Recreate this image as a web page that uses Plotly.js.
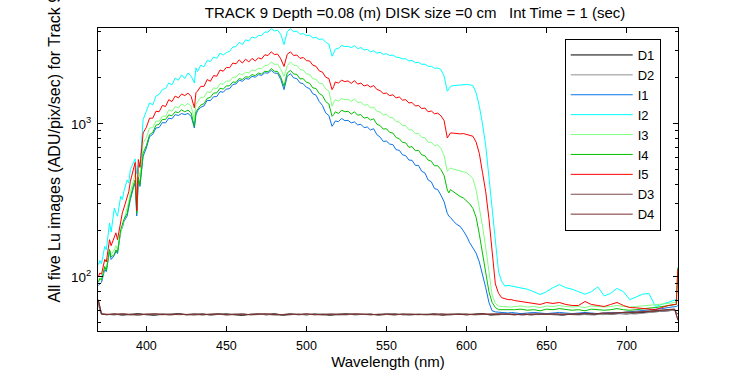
<!DOCTYPE html>
<html>
<head>
<meta charset="utf-8">
<script src="https://cdn.plot.ly/plotly-3.0.1.min.js"></script>
<style>html,body{margin:0;padding:0;background:#fff;}#chart{width:750px;height:375px;}</style>
</head>
<body>
<div id="chart"></div>
<script>
// ---------- data ----------
const wavelength = [
  370, 371, 372, 374, 375, 377, 378, 380, 381, 382,
  384, 385, 386, 388, 389, 390, 392, 393, 394, 395,
  396, 397, 398, 400, 402, 404, 406, 408, 410, 412,
  414, 416, 418, 420, 422, 424, 426, 428, 430, 431,
  432, 434, 436, 438, 440, 442, 444, 446, 448, 450,
  452, 454, 456, 458, 460, 462, 464, 466, 468, 470,
  472, 474, 476, 478, 480, 482, 484, 486, 487, 488,
  490, 492, 494, 496, 498, 500, 502, 504, 506, 508,
  510, 512, 514, 516, 517, 518, 520, 522, 524, 526,
  528, 530, 532, 534, 536, 538, 540, 542, 544, 546,
  548, 550, 552, 554, 556, 558, 560, 562, 564, 566,
  568, 570, 572, 574, 576, 578, 580, 582, 584, 586,
  588, 589, 590, 592, 594, 596, 598, 600, 602, 604,
  606, 608, 610, 612, 614, 616, 618, 620, 622, 624,
  626, 628, 630, 634, 638, 642, 646, 650, 654, 658,
  662, 666, 670, 674, 678, 682, 686, 690, 694, 698,
  702, 706, 710, 714, 718, 722, 726, 730, 731, 732
];

const I1 = [
  88, 90, 92, 112, 108, 148, 130, 138, 148, 142,
  198, 210, 230, 250, 290, 320, 385, 410, 250, 430,
  390, 500, 614, 695, 825, 855, 940, 948, 1020, 1015,
  1090, 1080, 1150, 1135, 1170, 1150, 1170, 1120, 940, 1150,
  1220, 1285, 1310, 1425, 1420, 1505, 1510, 1625, 1610, 1690,
  1700, 1810, 1825, 1930, 1900, 1980, 1960, 2045, 2020, 2100,
  2075, 2160, 2145, 2240, 2150, 2140, 1950, 1675, 1880, 2050,
  2130, 2000, 1975, 1855, 1830, 1735, 1700, 1575, 1540, 1400,
  1320, 1180, 1135, 964, 1000, 1045, 1035, 1085, 1050, 1055,
  1015, 1030, 985, 995, 945, 955, 912, 930, 850, 820,
  768, 772, 738, 732, 678, 672, 628, 620, 580, 578,
  536, 535, 490, 478, 430, 418, 378, 372, 342, 310,
  260, 249, 245, 230, 220, 214, 200, 185, 167, 155,
  143, 125, 105, 85, 68, 60, 59, 58.7, 58.5, 58,
  58, 58.5, 58, 57.5, 58, 58.5, 58, 57.5, 58, 58.5,
  58, 57.5, 58, 58.5, 58, 57.5, 58, 58.5, 58, 58.5,
  59, 59.5, 60, 60.5, 61, 62, 63, 64, 64, 65
];

const I2 = [
  120, 128, 122, 158, 150, 225, 196, 282, 262, 249,
  336, 320, 363, 430, 410, 502, 560, 590, 470, 540,
  520, 820, 1067, 1210, 1371, 1330, 1520, 1560, 1680, 1700,
  1854, 1800, 1990, 1930, 2090, 1980, 2152, 2050, 1854, 2323,
  2200, 2420, 2360, 2600, 2560, 2740, 2680, 2900, 2820, 2930,
  2980, 3180, 3200, 3420, 3300, 3550, 3480, 3700, 3640, 3780,
  3780, 3990, 3980, 4200, 4050, 4100, 3850, 3300, 3700, 4000,
  4200, 4000, 4050, 3850, 3900, 3780, 3800, 3650, 3680, 3560,
  3600, 3420, 3330, 2770, 2900, 3080, 3120, 3260, 3200, 3220,
  3150, 3250, 3100, 3160, 3040, 3070, 2960, 3010, 2900, 2940,
  2850, 2880, 2800, 2820, 2730, 2720, 2660, 2670, 2580, 2600,
  2510, 2530, 2450, 2460, 2380, 2380, 2310, 2320, 2270, 2050,
  1635, 1700, 1760, 1780, 1790, 1807, 1800, 1810, 1800, 1780,
  1595, 1305, 1000, 720, 450, 270, 165, 108, 93, 87,
  88, 87, 86, 84, 83, 80, 76.6, 80, 85, 89,
  85, 83, 80, 77, 80, 86, 75, 78, 84, 80,
  71, 74, 77, 78, 64, 66, 68, 70, 71, 72
];

const I3 = [
  95, 97, 96, 115, 112, 150, 140, 150, 160, 150,
  195, 215, 230, 290, 310, 360, 440, 470, 300, 500,
  450, 600, 751, 815, 940, 945, 1045, 1040, 1125, 1120,
  1235, 1210, 1300, 1270, 1350, 1310, 1365, 1300, 1067, 1350,
  1390, 1490, 1490, 1620, 1600, 1720, 1700, 1830, 1820, 1910,
  1900, 2020, 2020, 2130, 2090, 2180, 2150, 2250, 2230, 2310,
  2290, 2410, 2420, 2540, 2450, 2460, 2270, 2048, 2200, 2400,
  2540, 2420, 2410, 2270, 2250, 2120, 2110, 1970, 1960, 1840,
  1830, 1700, 1640, 1304, 1380, 1440, 1410, 1465, 1440, 1450,
  1400, 1460, 1380, 1390, 1320, 1340, 1270, 1290, 1210, 1195,
  1145, 1155, 1105, 1095, 1035, 1030, 975, 975, 915, 915,
  862, 865, 818, 812, 758, 758, 720, 730, 692, 620,
  490, 500, 515, 505, 500, 495, 490, 480, 460, 440,
  370, 290, 215, 155, 105, 76, 67, 64.3, 64, 63.7,
  64, 63.5, 64, 64.5, 63.5, 64, 63, 64.5, 64, 65,
  64, 63.5, 64, 63, 64.5, 64, 63.5, 64, 65, 64,
  63.5, 64, 64.5, 65, 65.5, 66, 67, 68, 69, 70
];

const I4 = [
  92, 98, 95, 117, 110, 151, 135, 140, 150, 145,
  204, 220, 237, 260, 300, 330, 400, 430, 260, 450,
  400, 520, 646, 720, 850, 880, 980, 995, 1070, 1070,
  1145, 1130, 1200, 1185, 1235, 1200, 1230, 1180, 964, 1200,
  1250, 1330, 1355, 1470, 1490, 1590, 1595, 1710, 1690, 1770,
  1775, 1880, 1870, 1980, 1950, 2030, 2020, 2100, 2070, 2150,
  2120, 2210, 2190, 2300, 2210, 2200, 2020, 1760, 1950, 2150,
  2240, 2120, 2110, 1970, 1975, 1870, 1845, 1720, 1705, 1580,
  1535, 1400, 1350, 1122, 1150, 1200, 1170, 1230, 1200, 1210,
  1160, 1200, 1140, 1150, 1090, 1105, 1060, 1080, 995, 975,
  925, 930, 880, 872, 815, 800, 757, 752, 703, 710,
  668, 672, 628, 620, 580, 570, 532, 533, 502, 460,
  370, 354, 372, 360, 345, 335, 328, 315, 300, 280,
  245, 190, 140, 105, 80, 68, 63, 61, 61, 60.5,
  61, 60.5, 61, 61.5, 60.5, 61, 60, 61.5, 61, 62,
  61, 60.5, 61, 60, 61.5, 61, 60.5, 61, 62, 61,
  60.5, 61, 62, 62.5, 63, 64, 65, 66, 66, 115
];

const I5 = [
  100, 106, 104, 130, 125, 175, 160, 185, 194, 175,
  230, 262, 282, 330, 360, 420, 520, 560, 270, 585,
  520, 700, 873, 950, 1090, 1090, 1210, 1200, 1320, 1300,
  1440, 1400, 1520, 1480, 1570, 1530, 1590, 1510, 1274, 1600,
  1640, 1760, 1760, 1950, 1900, 2070, 2050, 2250, 2210, 2340,
  2330, 2500, 2470, 2620, 2500, 2650, 2540, 2680, 2580, 2700,
  2660, 2830, 2800, 2960, 2840, 2860, 2660, 2375, 2600, 2850,
  2960, 2800, 2820, 2680, 2720, 2590, 2580, 2420, 2380, 2220,
  2180, 2020, 1980, 1675, 1750, 1880, 1850, 1930, 1890, 1910,
  1840, 1920, 1820, 1850, 1770, 1800, 1740, 1780, 1680, 1650,
  1580, 1590, 1530, 1550, 1480, 1500, 1430, 1440, 1370, 1380,
  1310, 1320, 1260, 1270, 1200, 1215, 1165, 1175, 1130, 1050,
  809, 850, 873, 870, 865, 860, 865, 850, 840, 830,
  760, 640, 480, 360, 240, 140, 90, 78, 73, 72,
  71, 71, 70, 69, 68, 67, 66, 68, 67, 68,
  66, 65, 65, 69, 66, 65, 64, 66, 68, 65,
  63, 62.7, 62, 61.5, 61, 63, 65, 66, 66, 112
];

const darkWavelength = [
  370, 371, 372,
  375, 380, 385, 390, 395, 400, 405, 410,
  415, 420, 425, 430, 435, 440, 445, 450,
  455, 460, 465, 470, 475, 480, 485, 490,
  495, 500, 505, 510, 515, 520, 525, 530,
  535, 540, 545, 550, 555, 560, 565, 570,
  575, 580, 585, 590, 595, 600, 605, 610,
  615, 620, 625, 630, 635, 640, 645, 650,
  655, 660, 665, 670, 675, 680, 685, 690,
  695, 700, 705, 710, 715, 720, 725, 730,
  732
];

const D1 = [
  69, 61, 57.2,
  56.5, 57.1, 56.2, 56.9, 57.4, 56.6, 56.1, 57.0,
  56.8, 57.5, 56.4, 56.9, 57.2, 56.3, 56.7, 57.3,
  56.5, 56.0, 56.9, 57.1, 56.6, 57.4, 56.2, 56.8,
  57.0, 56.4, 57.2, 56.7, 56.1, 56.9, 57.3, 56.5,
  56.8, 57.1, 56.3, 56.9, 57.2, 56.6, 56.4, 57.0,
  56.8, 57.3, 56.2, 56.7, 57.1, 56.5, 56.9, 57.4,
  56.3, 56.8, 57.0, 56.6, 57.2, 56.4, 56.9, 57.3,
  56.7, 56.2, 57.0, 56.8, 57.1, 56.5, 57.3, 56.9,
  57.6, 57.2, 57.9, 58.3, 58.8, 59.4, 59.9, 60.6,
  57
];

const D2 = [
  68, 60, 56.8,
  56.9, 56.3, 57.2, 56.6, 56.0, 57.1, 56.7, 56.4,
  57.3, 56.5, 56.8, 57.0, 56.2, 57.2, 56.9, 56.4,
  56.7, 57.4, 56.3, 56.6, 57.0, 56.1, 56.8, 57.2,
  56.4, 56.9, 56.5, 57.3, 56.8, 56.2, 56.6, 57.1,
  56.9, 56.4, 57.2, 56.7, 56.3, 57.0, 56.8, 56.5,
  57.1, 56.6, 56.9, 56.2, 57.3, 56.8, 56.4, 56.7,
  57.2, 56.5, 56.8, 57.4, 56.3, 56.9, 56.6, 57.0,
  56.4, 57.1, 56.7, 56.3, 56.9, 57.2, 56.6, 57.0,
  57.3, 57.8, 57.1, 58.0, 58.6, 59.3, 59.9, 60.5,
  56.8
];

const D3 = [
  70, 62, 57.4,
  57.0, 56.6, 57.5, 56.8, 56.3, 57.2, 57.0, 56.5,
  56.9, 57.4, 56.7, 56.2, 57.1, 56.8, 57.5, 56.6,
  57.2, 56.5, 56.9, 57.3, 56.4, 57.0, 56.7, 57.4,
  56.6, 57.1, 56.8, 56.3, 57.2, 56.9, 56.5, 57.3,
  56.7, 57.0, 56.4, 57.4, 56.8, 56.6, 57.2, 56.9,
  56.5, 57.1, 57.4, 56.7, 56.9, 57.3, 56.6, 57.0,
  56.8, 57.5, 56.9, 56.4, 57.2, 57.0, 56.7, 57.3,
  57.1, 56.8, 57.4, 57.0, 57.6, 57.2, 57.8, 58.1,
  57.9, 58.4, 58.8, 59.3, 59.9, 60.4, 61.0, 61.6,
  53
];

const D4 = [
  71, 63, 57.0,
  56.7, 57.3, 56.9, 56.4, 57.1, 56.6, 57.4, 56.8,
  56.3, 57.0, 56.7, 57.3, 56.5, 56.9, 57.2, 56.4,
  56.9, 57.2, 56.6, 56.9, 57.5, 56.7, 56.3, 57.1,
  56.8, 57.4, 56.5, 56.9, 57.0, 56.6, 57.2, 56.8,
  57.2, 56.5, 56.9, 57.1, 56.4, 57.3, 56.8, 56.6,
  57.0, 56.7, 56.4, 57.2, 56.8, 56.5, 57.1, 57.4,
  56.6, 57.0, 57.3, 56.8, 56.5, 57.1, 57.4, 56.9,
  57.3, 57.0, 56.7, 57.4, 57.8, 57.3, 58.0, 57.7,
  58.2, 58.7, 58.4, 59.0, 59.6, 60.2, 60.8, 61.4,
  52
];

const seriesNames = ['D1', 'D2', 'I1', 'I2', 'I3', 'I4', 'I5', 'D3', 'D4'];
const seriesColors = ['#000000', '#909090', '#0b72e8', '#00ffff', '#80ff80', '#00c000', '#ff0000', '#7f4a4a', '#7a2e2e'];

const xTickValues = [400, 450, 500, 550, 600, 650, 700];
const yTickValues = [100, 1000];
const yTickText = ['10<sup>2</sup>', '10<sup>3</sup>'];
const yMinorTickValues = [50, 60, 70, 80, 90, 200, 300, 400, 500, 600, 700, 800, 900, 2000, 3000, 4000];

const titleText = 'TRACK 9 Depth =0.08 (m) DISK size =0 cm   Int Time = 1 (sec)';
const xLabel = 'Wavelength (nm)';
const yLabel = 'All five Lu images (ADU/pix/sec) for Track 9';

// ---------- traces ----------
const seriesY = {D1: D1, D2: D2, I1: I1, I2: I2, I3: I3, I4: I4, I5: I5, D3: D3, D4: D4};
const traces = seriesNames.map((name, i) => ({
  type: 'scatter',
  mode: 'lines',
  name: name,
  x: name[0] === 'D' ? darkWavelength : wavelength,
  y: seriesY[name],
  line: {color: seriesColors[i], width: 1},
  hoverinfo: 'skip'
}));

const layout = {
  width: 750,
  height: 375,
  margin: {l: 98, r: 72, t: 28, b: 44, pad: 0},
  paper_bgcolor: '#ffffff',
  plot_bgcolor: '#ffffff',
  font: {family: 'Liberation Sans, Arial, sans-serif', size: 12, color: '#000000'},
  title: {
    text: titleText,
    xref: 'container', x: 415 / 750, xanchor: 'center',
    yref: 'container', y: 1 - 13 / 375, yanchor: 'middle',
    font: {size: 15, color: '#000000'}
  },
  showlegend: true,
  legend: {
    x: 0.8047, y: 0.9637, xanchor: 'left', yanchor: 'top',
    bordercolor: '#000000', borderwidth: 1, bgcolor: '#ffffff',
    font: {size: 13, color: '#000000'},
    itemwidth: 62,
    tracegroupgap: 0
  },
  xaxis: {
    range: [369.8, 732.1],
    tickmode: 'array', tickvals: xTickValues,
    ticks: 'inside', ticklen: 5, tickwidth: 1, tickcolor: '#000000',
    ticklabelstandoff: 3,
    showline: true, linecolor: '#000000', linewidth: 1, mirror: 'ticks',
    showgrid: false, zeroline: false,
    tickfont: {size: 12.5},
    title: {text: xLabel, font: {size: 15}, standoff: 4}
  },
  yaxis: {
    type: 'log',
    range: [1.646, 3.627],
    tickmode: 'array', tickvals: yTickValues, ticktext: yTickText,
    ticks: 'inside', ticklen: 5, tickwidth: 1, tickcolor: '#000000',
    ticklabelstandoff: 3,
    minor: {tickmode: 'array', tickvals: yMinorTickValues, ticks: 'inside', ticklen: 3, tickcolor: '#000000', showgrid: false},
    showline: true, linecolor: '#000000', linewidth: 1, mirror: 'ticks',
    showgrid: false, zeroline: false,
    tickfont: {size: 13.5}
  },
  annotations: [{
    text: yLabel,
    textangle: -90,
    xref: 'paper', yref: 'paper',
    x: (54 - 98) / 580, y: (331 - 305) / 303,
    xanchor: 'center', yanchor: 'bottom',
    showarrow: false,
    font: {size: 16, color: '#000000'}
  }]
};

Plotly.newPlot('chart', traces, layout, {displayModeBar: false, staticPlot: true});
</script>
</body>
</html>
